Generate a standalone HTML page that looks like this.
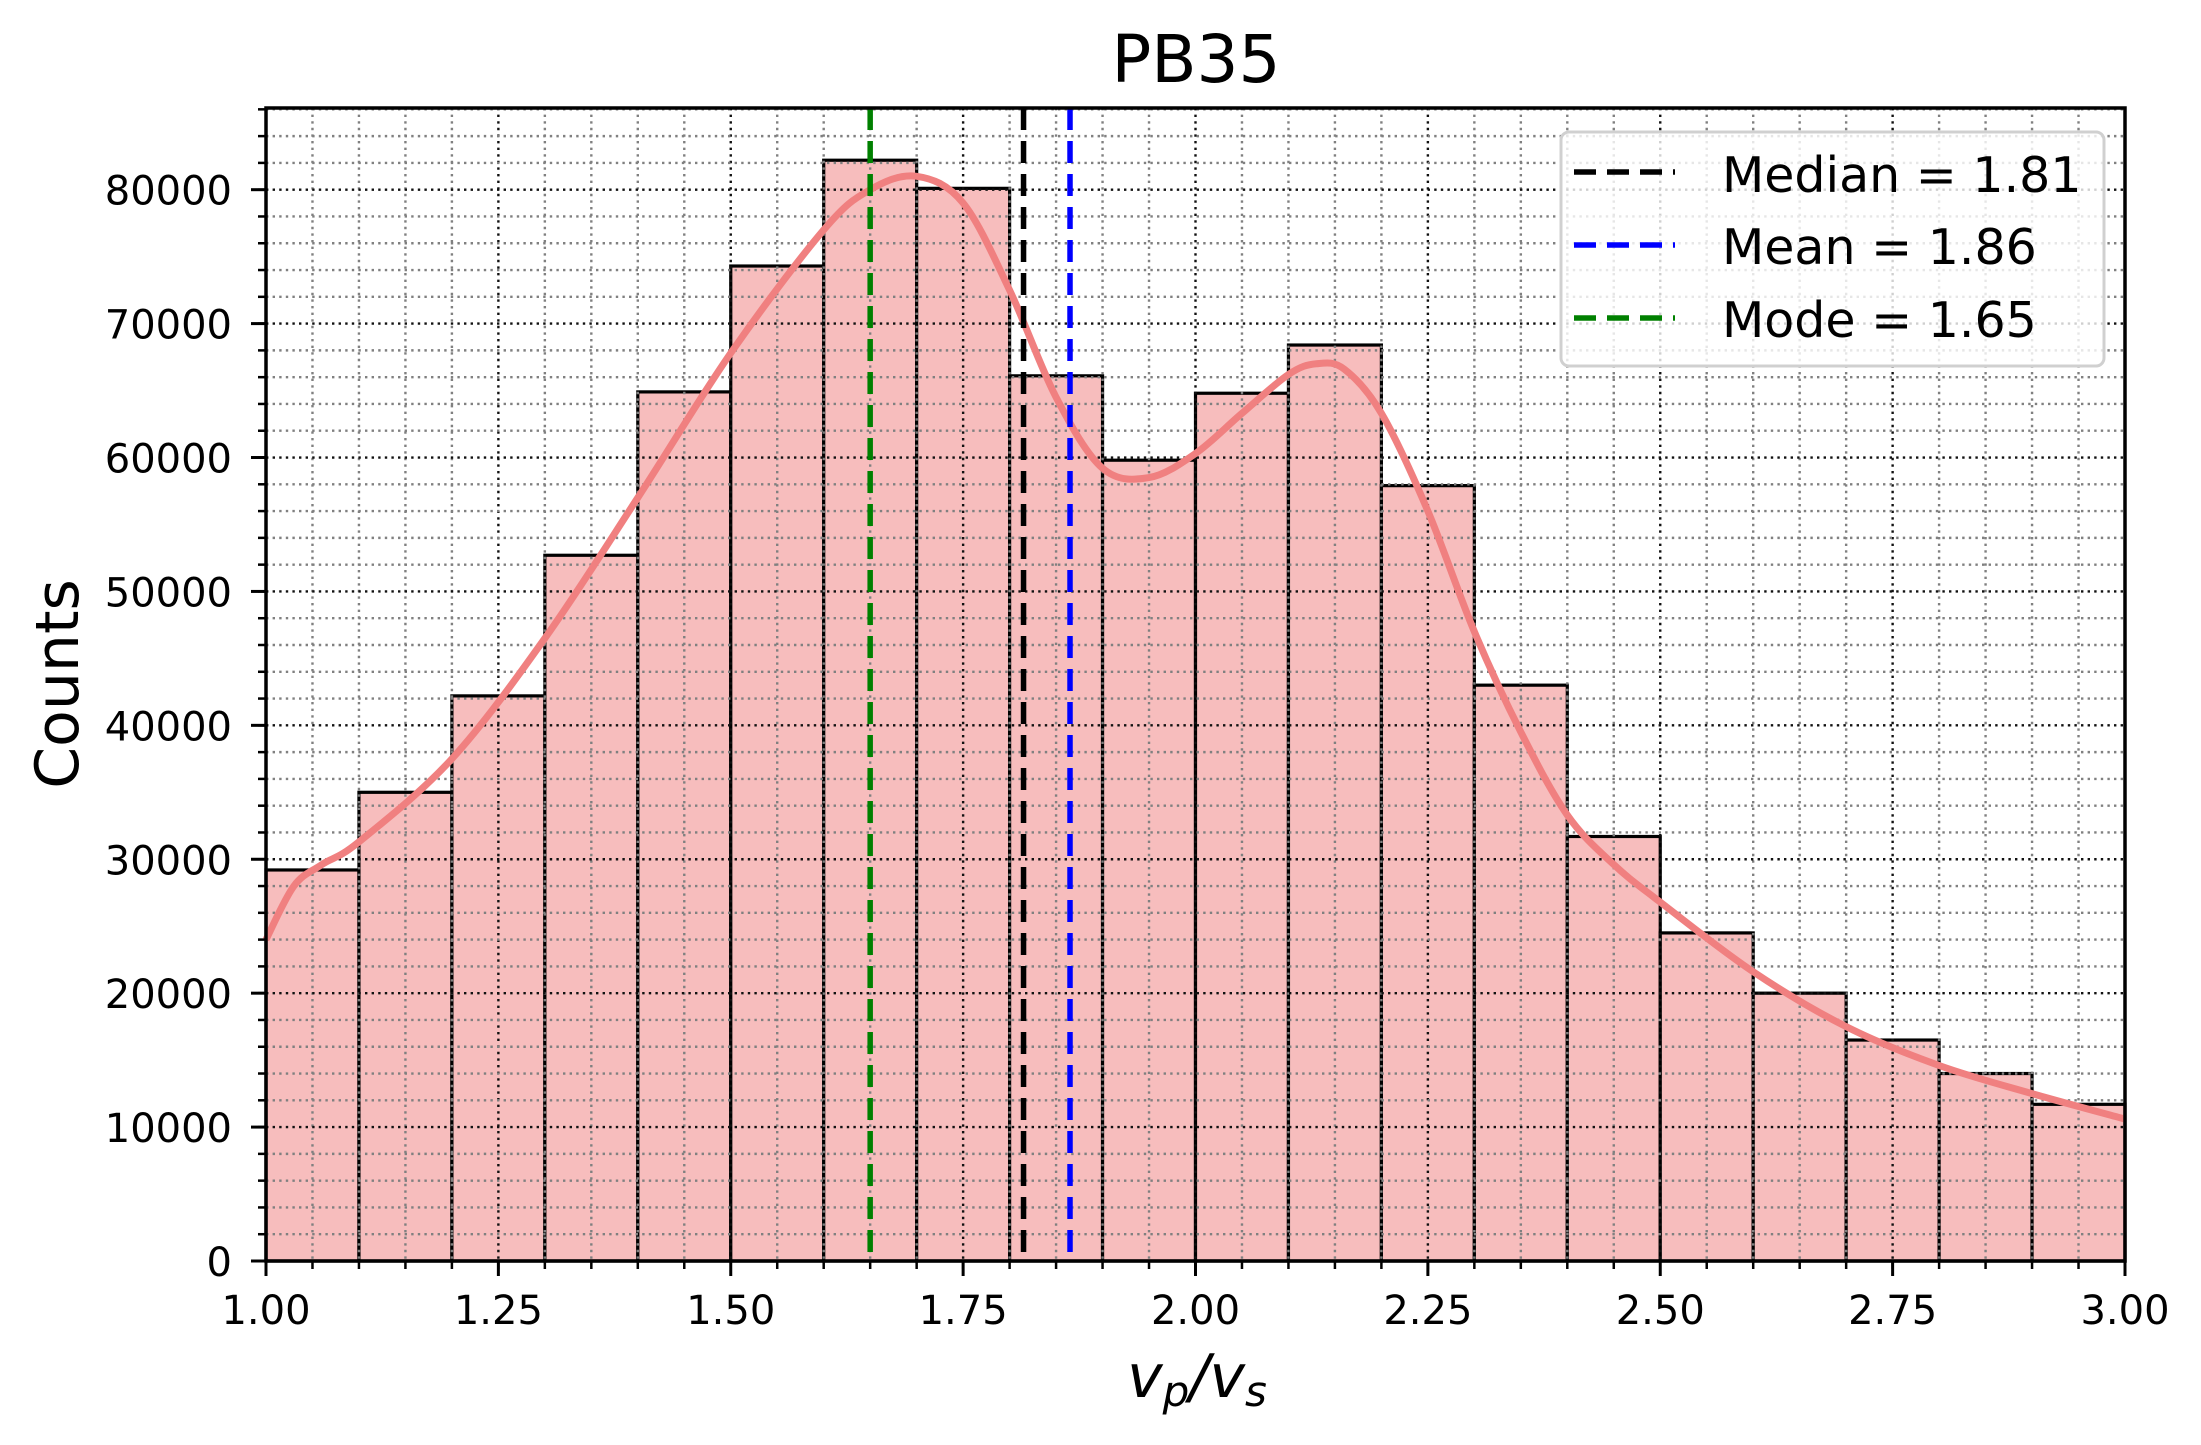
<!DOCTYPE html>
<html><head><meta charset="utf-8"><style>
html,body{margin:0;padding:0;background:#fff;}
svg{display:block;font-family:"DejaVu Sans","Liberation Sans",sans-serif;}
</style></head><body>
<svg id="chart" width="2201" height="1445" viewBox="0 0 2201 1445" xmlns="http://www.w3.org/2000/svg">
<text x="1196" y="82" font-size="66" text-anchor="middle">PB35</text>
<g id="bars"></g>
<g id="grid"></g>
<g id="kde"></g>
<g id="vlines"></g>
<g id="axes"></g>
<text x="78" y="684" font-size="60" text-anchor="middle" transform="rotate(-90 78 684)">Counts</text>
<text x="1197" y="1397" font-size="60" text-anchor="middle" font-style="italic">v<tspan font-size="42" dy="9">p</tspan><tspan dy="-9">/</tspan>v<tspan font-size="42" dy="9">s</tspan></text>
<g>
<rect x="1561" y="132" width="543" height="234" rx="8" fill="#fff" fill-opacity="0.8" stroke="#d0d0d0" stroke-width="3"/>
<line x1="1574" y1="172" x2="1675" y2="172" stroke="#000" stroke-width="5.5" stroke-dasharray="22,11"/>
<text x="1722" y="192" font-size="49">Median = 1.81</text>
<line x1="1574" y1="245" x2="1675" y2="245" stroke="#0000ff" stroke-width="5.5" stroke-dasharray="22,11"/>
<text x="1722" y="264" font-size="49">Mean = 1.86</text>
<line x1="1574" y1="318" x2="1675" y2="318" stroke="#008000" stroke-width="5.5" stroke-dasharray="22,11"/>
<text x="1722" y="337" font-size="49">Mode = 1.65</text>
</g>
</svg>
<script>
const binEdges = [1.0,1.1,1.2,1.3,1.4,1.5,1.6,1.7,1.8,1.9,2.0,2.1,2.2,2.3,2.4,2.5,2.6,2.7,2.8,2.9,3.0];
const binCounts = [29200,35000,42200,52700,64900,74300,82200,80100,66100,59800,64800,68400,57900,43000,31700,24500,20000,16500,14000,11700];
const kdeX = [1.0,1.03,1.06,1.1,1.2,1.3,1.4,1.5,1.6,1.65,1.7,1.75,1.8,1.85,1.9,1.95,2.0,2.05,2.1,2.13,2.16,2.2,2.25,2.3,2.35,2.4,2.45,2.5,2.6,2.7,2.8,2.9,3.0];
const kdeY = [24000,28000,29600,31300,37500,46500,57000,67800,77000,80000,81000,79000,72500,64500,59200,58500,60300,63300,66200,67000,66600,63300,56000,47000,39500,33300,29600,26800,21600,17500,14600,12500,10600];
const statNames = ['median','mean','mode'];
const statValues = [1.815,1.865,1.65];
const statColors = ['#000','#0000ff','#008000'];
const xTicks = [1.0,1.25,1.5,1.75,2.0,2.25,2.5,2.75,3.0];
const xTickLabels = ['1.00','1.25','1.50','1.75','2.00','2.25','2.50','2.75','3.00'];
const yTicks = [0,10000,20000,30000,40000,50000,60000,70000,80000];

const L=266,R=2125,T=108,B=1261,XMIN=1,XMAX=3,YMAX=86100;
const sx=v=>L+(v-XMIN)/(XMAX-XMIN)*(R-L);
const sy=v=>B-v/YMAX*(B-T);
const NS='http://www.w3.org/2000/svg';
function mk(tag,attrs,parent){const e=document.createElementNS(NS,tag);for(const k in attrs)e.setAttribute(k,attrs[k]);parent.appendChild(e);return e;}
const bars=document.getElementById('bars');
binCounts.forEach((c,i)=>{
  const r=mk('rect',{x:sx(binEdges[i]),y:sy(c),width:sx(binEdges[i+1])-sx(binEdges[i]),height:B-sy(c),fill:'#f7bdbd',stroke:'#000','stroke-width':3.2},bars);
  
  
});
const grid=document.getElementById('grid');
for(let v=1.05;v<3;v+=0.05){const major=Math.abs(v*4-Math.round(v*4))<1e-6;
  const l=mk('line',{x1:sx(v),x2:sx(v),y1:T,y2:B,stroke:major?'#111':'#808080','stroke-width':2.4,'stroke-dasharray':'2.4,4.2'},grid);
  
  }
for(let v=2000;v<YMAX;v+=2000){const major=v%10000===0;
  const l=mk('line',{x1:L,x2:R,y1:sy(v),y2:sy(v),stroke:major?'#111':'#808080','stroke-width':2.4,'stroke-dasharray':'2.4,4.2'},grid);
  
  }
const kde=document.getElementById('kde');
const pts=kdeX.map((x,i)=>[sx(x),sy(kdeY[i])]);
let d='M'+pts[0][0]+','+pts[0][1];
for(let i=0;i<pts.length-1;i++){const p0=pts[Math.max(0,i-1)],p1=pts[i],p2=pts[i+1],p3=pts[Math.min(pts.length-1,i+2)];
  d+=' C'+(p1[0]+(p2[0]-p0[0])/6)+','+(p1[1]+(p2[1]-p0[1])/6)+' '+(p2[0]-(p3[0]-p1[0])/6)+','+(p2[1]-(p3[1]-p1[1])/6)+' '+p2[0]+','+p2[1];}
const kp=mk('path',{d:d,fill:'none',stroke:'#f08080','stroke-width':7},kde);


const vl=document.getElementById('vlines');
statValues.forEach((v,i)=>{const l=mk('line',{x1:sx(v),x2:sx(v),y1:T,y2:B,stroke:statColors[i],'stroke-width':5.5,'stroke-dasharray':'22,11'},vl);
  
  });
const ax=document.getElementById('axes');
mk('rect',{x:L,y:T,width:R-L,height:B-T,fill:'none',stroke:'#000','stroke-width':3.5},ax);
for(let v=1.05;v<3;v+=0.05){mk('line',{x1:sx(v),x2:sx(v),y1:B,y2:B+8,stroke:'#000','stroke-width':2.5},ax);}
for(let v=2000;v<YMAX;v+=2000){mk('line',{x1:L-8,x2:L,y1:sy(v),y2:sy(v),stroke:'#000','stroke-width':2.5},ax);}
xTicks.forEach((v,i)=>{mk('line',{x1:sx(v),x2:sx(v),y1:B,y2:B+15,stroke:'#000','stroke-width':3},ax);
  const t=mk('text',{x:sx(v),y:1324,'font-size':40,'text-anchor':'middle'},ax);t.textContent=xTickLabels[i];
  
  });
yTicks.forEach(v=>{mk('line',{x1:L-15,x2:L,y1:sy(v),y2:sy(v),stroke:'#000','stroke-width':3},ax);
  const t=mk('text',{x:232,y:sy(v)+15,'font-size':40,'text-anchor':'end'},ax);t.textContent=String(v);
  
  });
</script>
</body></html>
